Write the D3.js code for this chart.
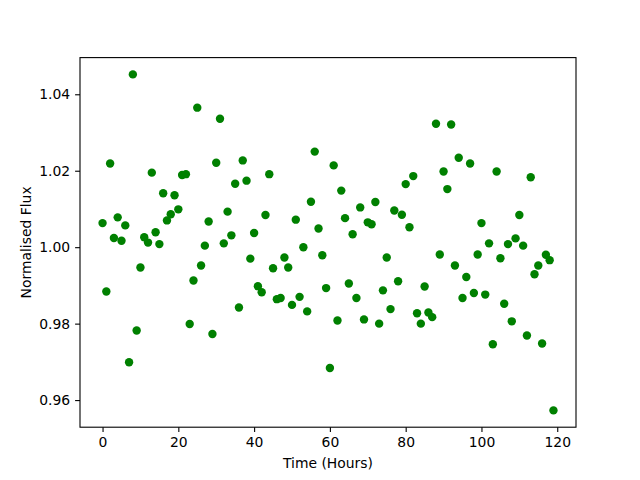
<!DOCTYPE html>
<html>
<head>
<meta charset="utf-8">
<script src="https://cdn.jsdelivr.net/npm/d3@7"></script>
<style>
  body { margin: 0; background: #fff; }
  text { font-family: "DejaVu Sans", sans-serif; }
</style>
</head>
<body>
<div id="chart"></div>
<script>
var hours = [0,1,2,3,4,5,6,7,8,9,10,11,12,13,14,15,16,17,18,19,
  20,21,22,23,24,25,26,27,28,29,30,31,32,33,34,35,36,37,38,39,
  40,41,42,43,44,45,46,47,48,49,50,51,52,53,54,55,56,57,58,59,
  60,61,62,63,64,65,66,67,68,69,70,71,72,73,74,75,76,77,78,79,
  80,81,82,83,84,85,86,87,88,89,90,91,92,93,94,95,96,97,98,99,
  100,101,102,103,104,105,106,107,108,109,110,111,112,113,114,115,116,117,118,119];

var flux = [1.0063,0.9884,1.0219,1.0024,1.0078,1.0017,1.0057,0.9699,1.0452,0.9782,
  0.9947,1.0026,1.0012,1.0195,1.0039,1.0008,1.0141,1.0070,1.0086,1.0136,
  1.0099,1.0189,1.0191,0.9799,0.9913,1.0365,0.9952,1.0004,1.0067,0.9773,
  1.0221,1.0336,1.0010,1.0093,1.0031,1.0166,0.9842,1.0227,1.0174,0.9970,
  1.0037,0.9898,0.9882,1.0084,1.0191,0.9945,0.9864,0.9867,0.9973,0.9947,
  0.9849,1.0072,0.9870,1.0000,0.9832,1.0119,1.0250,1.0049,0.9979,0.9893,
  0.9684,1.0214,0.9808,1.0148,1.0076,0.9905,1.0034,0.9867,1.0104,0.9811,
  1.0065,1.0060,1.0118,0.9800,0.9887,0.9973,0.9838,1.0096,0.9911,1.0085,
  1.0165,1.0052,1.0186,0.9827,0.9800,0.9897,0.9829,0.9817,1.0323,0.9981,
  1.0198,1.0152,1.0321,0.9952,1.0234,0.9867,0.9922,1.0219,0.9880,0.9981,
  1.0063,0.9876,1.0010,0.9746,1.0198,0.9971,0.9852,1.0008,0.9806,1.0023,
  1.0084,1.0004,0.9769,1.0183,0.9929,0.9952,0.9748,0.9980,0.9966,0.9573];

var xTicks = [0, 20, 40, 60, 80, 100, 120];
var yTicks = [0.96, 0.98, 1.00, 1.02, 1.04];

var width = 640, height = 480;
var margin = {left: 80, right: 64, top: 57.6, bottom: 52.8};

var svg = d3.select("#chart").append("svg")
  .attr("width", width)
  .attr("height", height);

// matplotlib style 5% margins on the data range
var xExt = d3.extent(hours), yExt = d3.extent(flux);
var xPad = (xExt[1] - xExt[0]) * 0.05, yPad = (yExt[1] - yExt[0]) * 0.05;

var x = d3.scaleLinear()
  .domain([xExt[0] - xPad, xExt[1] + xPad])
  .range([margin.left, width - margin.right]);
var y = d3.scaleLinear()
  .domain([yExt[0] - yPad, yExt[1] + yPad])
  .range([height - margin.bottom, margin.top]);

var xAxis = svg.append("g")
  .attr("transform", "translate(0," + (height - margin.bottom) + ")")
  .call(d3.axisBottom(x).tickValues(xTicks).tickFormat(d3.format("d")).tickSize(4.9).tickPadding(4.9));
var yAxis = svg.append("g")
  .attr("transform", "translate(" + margin.left + ",0)")
  .call(d3.axisLeft(y).tickValues(yTicks).tickFormat(d3.format(".2f")).tickSize(4.9).tickPadding(4.9));

[xAxis, yAxis].forEach(function(g) {
  g.select(".domain").remove();
  g.selectAll(".tick line").attr("stroke", "#000").attr("stroke-width", 1.1);
  g.selectAll(".tick text").attr("fill", "#000").style("font-size", "13.9px").style("font-family", "DejaVu Sans");
});

svg.selectAll(".dot")
  .data(hours)
  .enter()
  .append("circle")
  .attr("class", "dot")
  .attr("cx", function(d) { return x(d); })
  .attr("cy", function(d, i) { return y(flux[i]); })
  .attr("r", 4.2)
  .attr("fill", "green");

// frame
svg.append("rect")
  .attr("x", margin.left)
  .attr("y", margin.top)
  .attr("width", width - margin.left - margin.right)
  .attr("height", height - margin.top - margin.bottom)
  .attr("fill", "none")
  .attr("stroke", "#000")
  .attr("stroke-width", 1.1);

svg.append("text")
  .attr("x", (margin.left + width - margin.right) / 2)
  .attr("y", 468)
  .attr("text-anchor", "middle")
  .style("font-size", "13.9px")
  .text("Time (Hours)");

svg.append("text")
  .attr("transform", "translate(31," + ((margin.top + height - margin.bottom) / 2) + ") rotate(-90)")
  .attr("text-anchor", "middle")
  .style("font-size", "13.9px")
  .text("Normalised Flux");
</script>
</body>
</html>
